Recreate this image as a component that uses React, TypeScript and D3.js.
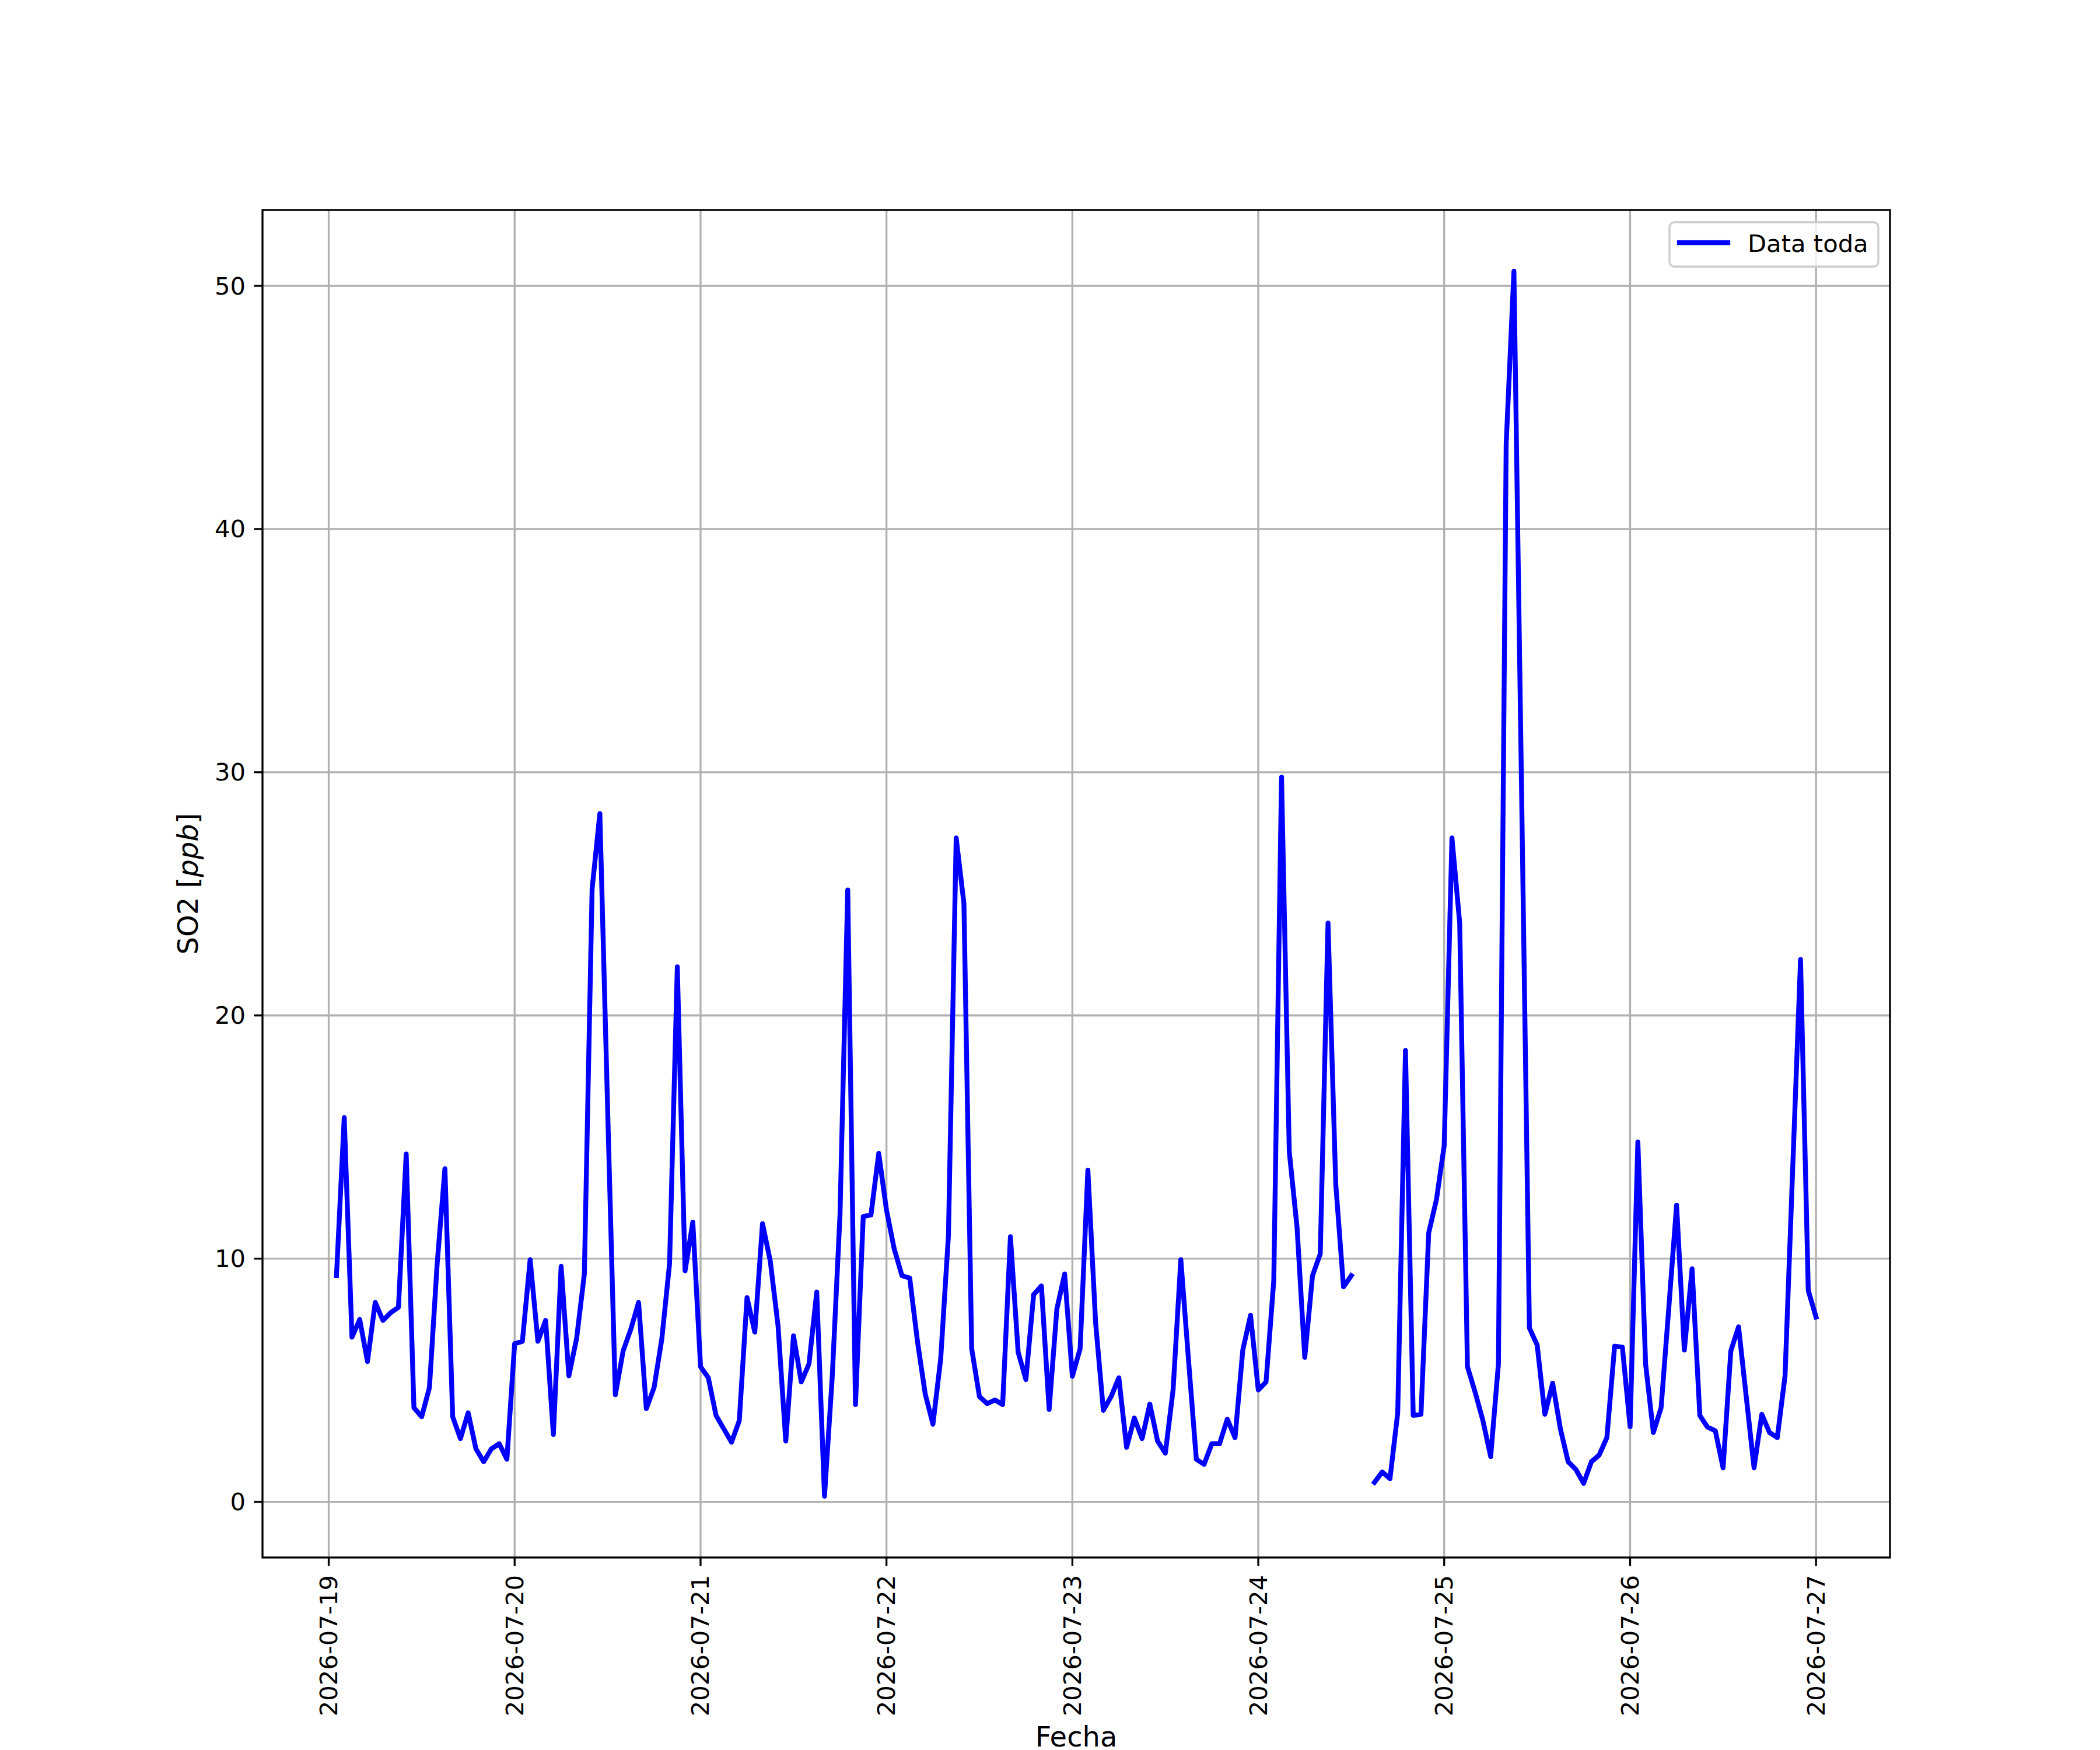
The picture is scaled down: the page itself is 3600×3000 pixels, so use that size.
import { useEffect, useMemo } from "react";
import * as d3 from "d3";

// hourly SO2 readings, one array per day (first day starts at 01:00)
const startTime = Date.UTC(2026, 6, 19, 1);
const day19 = [9.3, 15.8, 6.77, 7.5, 5.77, 8.2, 7.46, 7.78, 8.0, 14.3, 3.87, 3.5, 4.7, 9.8, 13.7, 3.5, 2.6, 3.66, 2.18, 1.65, 2.18, 2.39, 1.75];
const day20 = [6.5, 6.6, 9.96, 6.6, 7.46, 2.77, 9.68, 5.18, 6.72, 9.37, 25.2, 28.3, 16.2, 4.4, 6.2, 7.1, 8.2, 3.83, 4.7, 6.7, 9.8, 22.0, 9.5, 11.5];
const day21 = [5.56, 5.1, 3.55, 3.0, 2.45, 3.34, 8.4, 6.98, 11.44, 9.9, 7.25, 2.5, 6.83, 4.93, 5.67, 8.63, 0.23, 5.14, 11.8, 25.16, 4.0, 11.73, 11.8, 14.33];
const day22 = [12.0, 10.4, 9.3, 9.2, 6.6, 4.44, 3.19, 5.88, 10.95, 27.3, 24.6, 6.3, 4.33, 4.04, 4.19, 4.0, 10.9, 6.15, 5.03, 8.52, 8.88, 3.8, 7.93, 9.37];
const day23 = [5.16, 6.3, 13.64, 7.36, 3.76, 4.33, 5.1, 2.24, 3.45, 2.6, 4.02, 2.5, 2.0, 4.6, 9.96, 5.8, 1.75, 1.54, 2.39, 2.39, 3.4, 2.64, 6.24, 7.67];
const day24 = [4.6, 4.93, 9.1, 29.8, 14.4, 11.3, 5.94, 9.3, 10.2, 23.8, 13.07, 8.84, 9.3, NaN, NaN, 0.8, 1.23, 0.95, 3.66, 18.56, 3.55, 3.6, 11.06, 12.43];
const day25 = [14.65, 27.3, 23.8, 5.56, 4.5, 3.34, 1.86, 5.67, 43.5, 50.6, 29.0, 7.15, 6.45, 3.6, 4.88, 3.0, 1.65, 1.33, 0.76, 1.65, 1.92, 2.64, 6.4, 6.36];
const day26 = [3.09, 14.8, 5.67, 2.85, 3.87, 8.0, 12.2, 6.24, 9.58, 3.55, 3.07, 2.92, 1.4, 6.2, 7.2, 4.3, 1.4, 3.6, 2.85, 2.64, 5.18, 13.8, 22.3, 8.69];
const day27 = [7.6];

const yTicks = [0, 10, 20, 30, 40, 50];
const xTickDates = ["2026-07-19", "2026-07-20", "2026-07-21", "2026-07-22", "2026-07-23", "2026-07-24", "2026-07-25", "2026-07-26", "2026-07-27"];

export default function App() {
  const width = 3600;
  const height = 3000;
  const margin = { top: 360, right: 360, bottom: 330, left: 450 };
  const fs = 41.7;
  const labelFs = 48;

  useEffect(() => {
    document.body.style.margin = "0";
  }, []);

  const data = useMemo(() => {
    const values = [...day19, ...day20, ...day21, ...day22, ...day23, ...day24, ...day25, ...day26, ...day27];
    return values.map((v, i) => ({ t: new Date(startTime + i * 3600 * 1000), v }));
  }, []);

  const x0 = margin.left;
  const x1 = width - margin.right;
  const y0 = height - margin.bottom;
  const y1 = margin.top;

  const tExt = d3.extent(data, d => +d.t) as [number, number];
  const tPad = (tExt[1] - tExt[0]) * 0.05;
  const x = d3.scaleUtc()
    .domain([new Date(tExt[0] - tPad), new Date(tExt[1] + tPad)])
    .range([x0, x1]);

  const vals = data.filter(d => !isNaN(d.v)).map(d => d.v);
  const vMin = d3.min(vals)!;
  const vMax = d3.max(vals)!;
  const vPad = (vMax - vMin) * 0.05;
  const y = d3.scaleLinear().domain([vMin - vPad, vMax + vPad]).range([y0, y1]);

  const line = d3.line<{ t: Date; v: number }>()
    .defined(d => !isNaN(d.v))
    .x(d => x(d.t))
    .y(d => y(d.v));

  const xTicks = xTickDates.map(s => new Date(s + "T00:00:00Z"));
  const fmt = d3.utcFormat("%Y-%m-%d");

  const legX = 2862;
  const legY = 381;

  return (
    <svg width={width} height={height} style={{ display: "block", background: "#fff" }}
      fontFamily="DejaVu Sans, sans-serif">
      <rect x={0} y={0} width={width} height={height} fill="#fff" />
      {/* grid */}
      <g stroke="#b0b0b0" strokeWidth={3.33}>
        {xTicks.map((t, i) => (
          <line key={"gx" + i} x1={x(t)} x2={x(t)} y1={y1} y2={y0} />
        ))}
        {yTicks.map(v => (
          <line key={"gy" + v} x1={x0} x2={x1} y1={y(v)} y2={y(v)} />
        ))}
      </g>
      {/* series */}
      <path d={line(data) || ""} fill="none" stroke="#0000ff" strokeWidth={8.33}
        strokeLinejoin="round" strokeLinecap="square" />
      {/* frame */}
      <rect x={x0} y={y1} width={x1 - x0} height={y0 - y1} fill="none" stroke="#000" strokeWidth={3.33} />
      {/* y axis */}
      <g>
        {yTicks.map(v => (
          <g key={"ty" + v}>
            <line x1={x0 - 14.6} x2={x0} y1={y(v)} y2={y(v)} stroke="#000" strokeWidth={3.33} />
            <text x={x0 - 29} y={y(v)} textAnchor="end" dominantBaseline="central" fontSize={fs}>{v}</text>
          </g>
        ))}
      </g>
      {/* x axis */}
      <g>
        {xTicks.map((t, i) => (
          <g key={"tx" + i}>
            <line x1={x(t)} x2={x(t)} y1={y0} y2={y0 + 14.6} stroke="#000" strokeWidth={3.33} />
            <text transform={`translate(${x(t)},${y0 + 30}) rotate(-90)`} textAnchor="end"
              dominantBaseline="central" fontSize={fs}>{fmt(t)}</text>
          </g>
        ))}
      </g>
      {/* axis labels */}
      <text x={(x0 + x1) / 2} y={2994} textAnchor="middle" fontSize={labelFs}>Fecha</text>
      <text transform={`translate(322,${(y0 + y1) / 2}) rotate(-90)`} textAnchor="middle"
        dominantBaseline="central" fontSize={labelFs}>
        SO2 [<tspan fontStyle="italic">ppb</tspan>]
      </text>
      {/* legend */}
      <g>
        <rect x={legX} y={legY} width={358} height={76} rx={8} fill="#fff" fillOpacity={0.8}
          stroke="#cccccc" strokeWidth={3.33} />
        <line x1={legX + 17} x2={legX + 100} y1={legY + 35} y2={legY + 35} stroke="#0000ff" strokeWidth={8.33}
          strokeLinecap="square" />
        <text x={legX + 134} y={legY + 51} fontSize={fs}>Data toda</text>
      </g>
    </svg>
  );
}
